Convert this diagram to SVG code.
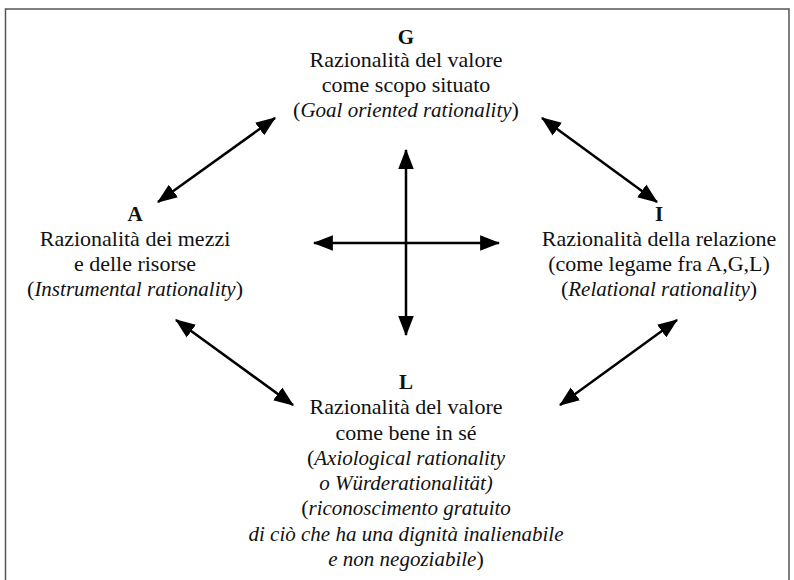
<svg xmlns="http://www.w3.org/2000/svg" width="794" height="580" viewBox="0 0 794 580">
<style>
text{font-family:"Liberation Serif","Times New Roman",serif;font-size:22px;fill:#111;text-anchor:middle}
.b{font-weight:bold;font-size:21px}
.i{font-style:italic;font-size:21px}
.c{fill:none;stroke:#000;stroke-width:2.5;marker-start:url(#ah);marker-end:url(#ah)}
</style>
<defs>
<marker id="ah" markerUnits="userSpaceOnUse" markerWidth="20" markerHeight="16" viewBox="0 0 18 14" refX="17" refY="7" orient="auto-start-reverse">
<path d="M0,0 L18,7 L0,14 z" fill="#000"/>
</marker>
</defs>
<rect width="794" height="580" fill="#fff"/>
<polyline points="5.5,580 5.5,9 789,9 789,580" fill="none" stroke="#555" stroke-width="1.5"/>
<g id="connectors">
<line class="c" x1="275" y1="118" x2="158" y2="202"/>
<line class="c" x1="542" y1="118" x2="657" y2="202"/>
<line class="c" x1="406" y1="150" x2="406" y2="335"/>
<line class="c" x1="314" y1="243" x2="499" y2="243"/>
<line class="c" x1="176" y1="320" x2="293" y2="405"/>
<line class="c" x1="677" y1="320" x2="560" y2="405"/>
</g>
<g id="G">
<text class="b" x="406" y="44">G</text>
<text x="406" y="67">Razionalità del valore</text>
<text x="406" y="92">come scopo situato</text>
<text x="406" y="117">(<tspan class="i">Goal oriented rationality</tspan>)</text>
</g>
<g id="A">
<text class="b" x="135" y="221">A</text>
<text x="135" y="246">Razionalità dei mezzi</text>
<text x="135" y="271">e delle risorse</text>
<text x="135" y="296">(<tspan class="i">Instrumental rationality</tspan>)</text>
</g>
<g id="I">
<text class="b" x="659" y="221">I</text>
<text x="659" y="246">Razionalità della relazione</text>
<text x="659" y="271">(come legame fra A,G,L)</text>
<text x="659" y="296">(<tspan class="i">Relational rationality</tspan>)</text>
</g>
<g id="L">
<text class="b" x="406" y="389">L</text>
<text x="406" y="414">Razionalità del valore</text>
<text x="406" y="440">come bene in sé</text>
<text x="406" y="465">(<tspan class="i">Axiological rationality</tspan></text>
<text class="i" x="406" y="490">o Würderationalität)</text>
<text x="406" y="515">(<tspan class="i">riconoscimento gratuito</tspan></text>
<text class="i" x="406" y="541">di ciò che ha una dignità inalienabile</text>
<text x="406" y="566"><tspan class="i">e non negoziabile</tspan>)</text>
</g>
</svg>
